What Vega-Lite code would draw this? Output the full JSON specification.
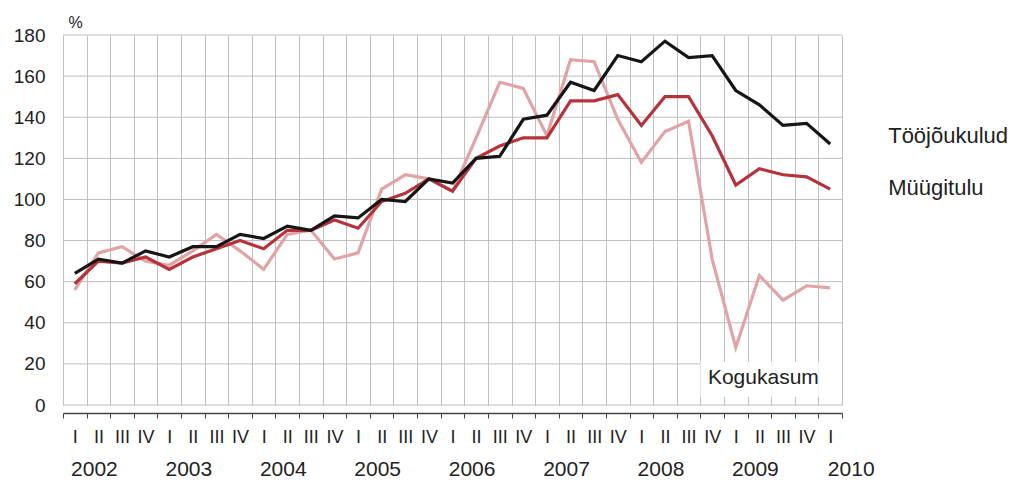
{
  "$schema": "https://vega.github.io/schema/vega-lite/v6.json",
  "description": "Tööjõukulud, müügitulu ja kogukasum, 2002-2010",
  "width": 779,
  "height": 370,
  "autosize": "none",
  "padding": {"left": 63, "top": 35, "right": 176, "bottom": 78},
  "background": "white",
  "config": {
    "font": "Liberation Sans",
    "view": {"stroke": null},
    "axis": {"labelColor": "#222", "labelFont": "Liberation Sans", "gridColor": "#c0c0c0", "gridWidth": 1}
  },
  "datasets": {
    "series": [
      {"q": "2002 I", "s": "Kogukasum", "v": 56}, {"q": "2002 II", "s": "Kogukasum", "v": 74}, {"q": "2002 III", "s": "Kogukasum", "v": 77}, {"q": "2002 IV", "s": "Kogukasum", "v": 70},
      {"q": "2003 I", "s": "Kogukasum", "v": 68}, {"q": "2003 II", "s": "Kogukasum", "v": 75}, {"q": "2003 III", "s": "Kogukasum", "v": 83}, {"q": "2003 IV", "s": "Kogukasum", "v": 75},
      {"q": "2004 I", "s": "Kogukasum", "v": 66}, {"q": "2004 II", "s": "Kogukasum", "v": 83}, {"q": "2004 III", "s": "Kogukasum", "v": 85}, {"q": "2004 IV", "s": "Kogukasum", "v": 71},
      {"q": "2005 I", "s": "Kogukasum", "v": 74}, {"q": "2005 II", "s": "Kogukasum", "v": 105}, {"q": "2005 III", "s": "Kogukasum", "v": 112}, {"q": "2005 IV", "s": "Kogukasum", "v": 110},
      {"q": "2006 I", "s": "Kogukasum", "v": 104}, {"q": "2006 II", "s": "Kogukasum", "v": 130}, {"q": "2006 III", "s": "Kogukasum", "v": 157}, {"q": "2006 IV", "s": "Kogukasum", "v": 154},
      {"q": "2007 I", "s": "Kogukasum", "v": 131}, {"q": "2007 II", "s": "Kogukasum", "v": 168}, {"q": "2007 III", "s": "Kogukasum", "v": 167}, {"q": "2007 IV", "s": "Kogukasum", "v": 139},
      {"q": "2008 I", "s": "Kogukasum", "v": 118}, {"q": "2008 II", "s": "Kogukasum", "v": 133}, {"q": "2008 III", "s": "Kogukasum", "v": 138}, {"q": "2008 IV", "s": "Kogukasum", "v": 71},
      {"q": "2009 I", "s": "Kogukasum", "v": 28}, {"q": "2009 II", "s": "Kogukasum", "v": 63}, {"q": "2009 III", "s": "Kogukasum", "v": 51}, {"q": "2009 IV", "s": "Kogukasum", "v": 58},
      {"q": "2010 I", "s": "Kogukasum", "v": 57},
      {"q": "2002 I", "s": "Müügitulu", "v": 59}, {"q": "2002 II", "s": "Müügitulu", "v": 70}, {"q": "2002 III", "s": "Müügitulu", "v": 69}, {"q": "2002 IV", "s": "Müügitulu", "v": 72},
      {"q": "2003 I", "s": "Müügitulu", "v": 66}, {"q": "2003 II", "s": "Müügitulu", "v": 72}, {"q": "2003 III", "s": "Müügitulu", "v": 76}, {"q": "2003 IV", "s": "Müügitulu", "v": 80},
      {"q": "2004 I", "s": "Müügitulu", "v": 76}, {"q": "2004 II", "s": "Müügitulu", "v": 85}, {"q": "2004 III", "s": "Müügitulu", "v": 85}, {"q": "2004 IV", "s": "Müügitulu", "v": 90},
      {"q": "2005 I", "s": "Müügitulu", "v": 86}, {"q": "2005 II", "s": "Müügitulu", "v": 99}, {"q": "2005 III", "s": "Müügitulu", "v": 103}, {"q": "2005 IV", "s": "Müügitulu", "v": 110},
      {"q": "2006 I", "s": "Müügitulu", "v": 104}, {"q": "2006 II", "s": "Müügitulu", "v": 120}, {"q": "2006 III", "s": "Müügitulu", "v": 126}, {"q": "2006 IV", "s": "Müügitulu", "v": 130},
      {"q": "2007 I", "s": "Müügitulu", "v": 130}, {"q": "2007 II", "s": "Müügitulu", "v": 148}, {"q": "2007 III", "s": "Müügitulu", "v": 148}, {"q": "2007 IV", "s": "Müügitulu", "v": 151},
      {"q": "2008 I", "s": "Müügitulu", "v": 136}, {"q": "2008 II", "s": "Müügitulu", "v": 150}, {"q": "2008 III", "s": "Müügitulu", "v": 150}, {"q": "2008 IV", "s": "Müügitulu", "v": 131},
      {"q": "2009 I", "s": "Müügitulu", "v": 107}, {"q": "2009 II", "s": "Müügitulu", "v": 115}, {"q": "2009 III", "s": "Müügitulu", "v": 112}, {"q": "2009 IV", "s": "Müügitulu", "v": 111},
      {"q": "2010 I", "s": "Müügitulu", "v": 105},
      {"q": "2002 I", "s": "Tööjõukulud", "v": 64}, {"q": "2002 II", "s": "Tööjõukulud", "v": 71}, {"q": "2002 III", "s": "Tööjõukulud", "v": 69}, {"q": "2002 IV", "s": "Tööjõukulud", "v": 75},
      {"q": "2003 I", "s": "Tööjõukulud", "v": 72}, {"q": "2003 II", "s": "Tööjõukulud", "v": 77}, {"q": "2003 III", "s": "Tööjõukulud", "v": 77}, {"q": "2003 IV", "s": "Tööjõukulud", "v": 83},
      {"q": "2004 I", "s": "Tööjõukulud", "v": 81}, {"q": "2004 II", "s": "Tööjõukulud", "v": 87}, {"q": "2004 III", "s": "Tööjõukulud", "v": 85}, {"q": "2004 IV", "s": "Tööjõukulud", "v": 92},
      {"q": "2005 I", "s": "Tööjõukulud", "v": 91}, {"q": "2005 II", "s": "Tööjõukulud", "v": 100}, {"q": "2005 III", "s": "Tööjõukulud", "v": 99}, {"q": "2005 IV", "s": "Tööjõukulud", "v": 110},
      {"q": "2006 I", "s": "Tööjõukulud", "v": 108}, {"q": "2006 II", "s": "Tööjõukulud", "v": 120}, {"q": "2006 III", "s": "Tööjõukulud", "v": 121}, {"q": "2006 IV", "s": "Tööjõukulud", "v": 139},
      {"q": "2007 I", "s": "Tööjõukulud", "v": 141}, {"q": "2007 II", "s": "Tööjõukulud", "v": 157}, {"q": "2007 III", "s": "Tööjõukulud", "v": 153}, {"q": "2007 IV", "s": "Tööjõukulud", "v": 170},
      {"q": "2008 I", "s": "Tööjõukulud", "v": 167}, {"q": "2008 II", "s": "Tööjõukulud", "v": 177}, {"q": "2008 III", "s": "Tööjõukulud", "v": 169}, {"q": "2008 IV", "s": "Tööjõukulud", "v": 170},
      {"q": "2009 I", "s": "Tööjõukulud", "v": 153}, {"q": "2009 II", "s": "Tööjõukulud", "v": 146}, {"q": "2009 III", "s": "Tööjõukulud", "v": 136}, {"q": "2009 IV", "s": "Tööjõukulud", "v": 137},
      {"q": "2010 I", "s": "Tööjõukulud", "v": 127}
    ],
    "hgrid": [
      {"g": 0}, {"g": 20}, {"g": 40}, {"g": 60}, {"g": 80}, {"g": 100}, {"g": 120}, {"g": 140}, {"g": 160}, {"g": 180}
    ],
    "box": [
      {"q": "2008 IV"}, {"q": "2009 I"}, {"q": "2009 II"}, {"q": "2009 III"}, {"q": "2009 IV"}, {"q": "2010 I"}
    ],
    "endLabels": [
      {"q": "2010 I", "v": 131, "t": "Tööjõukulud"},
      {"q": "2010 I", "v": 105.5, "t": "Müügitulu"}
    ],
    "innerLabel": [
      {"q": "2009 II", "v": 13, "t": "Kogukasum"}
    ]
  },
  "layer": [
    {
      "data": {"name": "hgrid"},
      "mark": {"type": "rule", "color": "#bdbdbd", "strokeWidth": 1},
      "encoding": {
        "y": {"field": "g", "type": "quantitative"}
      }
    },
    {
      "data": {"name": "box"},
      "mark": {"type": "rect", "fill": "white", "stroke": null},
      "encoding": {
        "x": {"field": "q", "type": "ordinal", "axis": null},
        "y": {"datum": 4, "type": "quantitative"},
        "y2": {"datum": 21}
      }
    },
    {
      "data": {"name": "series"},
      "mark": {"type": "line", "strokeWidth": 3.2, "strokeJoin": "miter"},
      "encoding": {
        "x": {
          "field": "q",
          "type": "ordinal",
          "scale": {"type": "band", "paddingInner": 0, "paddingOuter": 0},
          "axis": {
            "title": null,
            "orient": "bottom",
            "offset": 8,
            "tickBand": "extent",
            "grid": true,
            "domainColor": "#444",
            "domainWidth": 1.5,
            "tickColor": "#444",
            "tickSize": 5,
            "labelAngle": 0,
            "labelFontSize": 18,
            "labelPadding": 10,
            "labelExpr": "split(datum.label, ' ')[1]"
          }
        },
        "y": {
          "field": "v",
          "type": "quantitative",
          "scale": {"domain": [0, 180], "nice": false},
          "axis": {
            "values": [0, 20, 40, 60, 80, 100, 120, 140, 160, 180],
            "grid": false,
            "domain": false,
            "ticks": false,
            "labelFontSize": 19,
            "labelPadding": 18,
            "title": "%",
            "titleAngle": 0,
            "titleAlign": "left",
            "titleBaseline": "alphabetic",
            "titleFontWeight": "normal",
            "titleFontSize": 16,
            "titleColor": "#222",
            "titleX": 5,
            "titleY": -8
          }
        },
        "color": {
          "field": "s",
          "type": "nominal",
          "scale": {
            "domain": ["Tööjõukulud", "Müügitulu", "Kogukasum"],
            "range": ["#161616", "#b5343c", "#e2a3a6"]
          },
          "legend": null
        }
      }
    },
    {
      "data": {"name": "endLabels"},
      "mark": {"type": "text", "align": "left", "baseline": "middle", "dx": 58, "fontSize": 22, "color": "#222"},
      "encoding": {
        "x": {"field": "q", "type": "ordinal", "axis": null},
        "y": {"field": "v", "type": "quantitative"},
        "text": {"field": "t"}
      }
    },
    {
      "data": {"name": "innerLabel"},
      "mark": {"type": "text", "align": "center", "baseline": "middle", "dx": 4, "fontSize": 21, "color": "#222"},
      "encoding": {
        "x": {
          "field": "q",
          "type": "ordinal",
          "axis": {
            "title": null,
            "orient": "bottom",
            "offset": 44,
            "domain": false,
            "ticks": false,
            "grid": false,
            "labelAngle": 0,
            "labelFontSize": 21,
            "labelPadding": 9,
            "labelOffset": {"condition": {"test": "datum.value == '2010 I'", "value": 21}, "value": -4},
            "labelExpr": "datum.value == '2010 I' ? '2010' : (split(datum.value, ' ')[1] == 'II' ? split(datum.value, ' ')[0] : '')"
          }
        },
        "y": {"field": "v", "type": "quantitative"},
        "text": {"field": "t"}
      }
    }
  ],
  "resolve": {"scale": {"x": "shared", "y": "shared"}, "axis": {"x": "independent", "y": "shared"}}
}
